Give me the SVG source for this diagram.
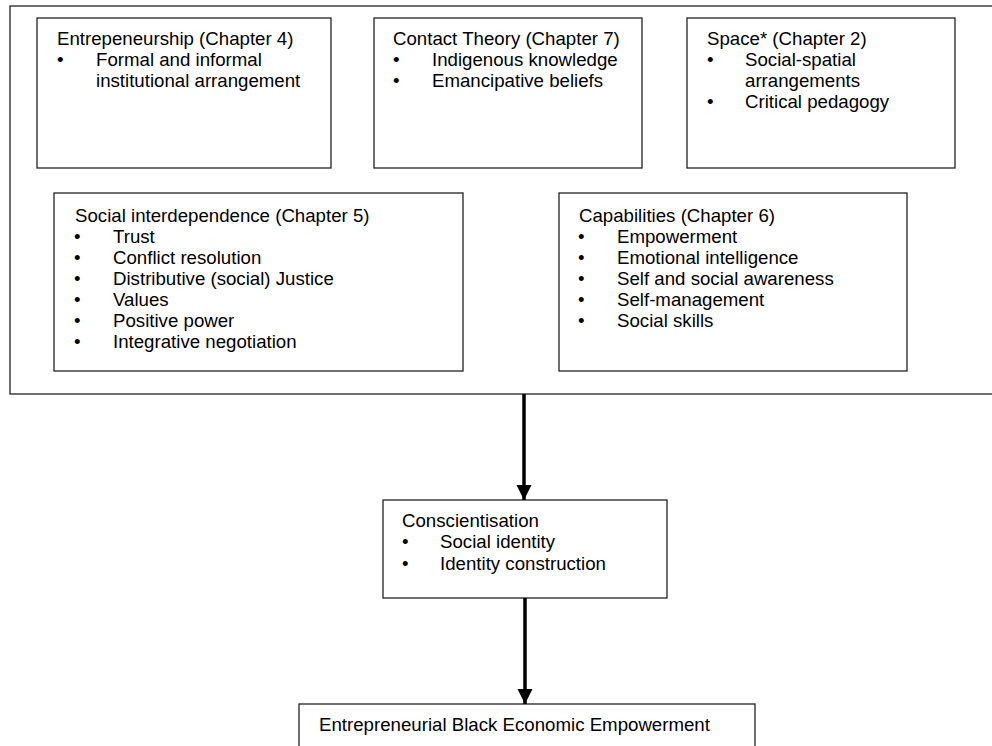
<svg xmlns="http://www.w3.org/2000/svg" width="992" height="746" viewBox="0 0 992 746">
  <style>
    .box { fill: #fff; stroke: #222; stroke-width: 1.3; }
    .frame { fill: none; stroke: #222; stroke-width: 1.3; }
    text { font-family: "Liberation Sans", Arial, sans-serif; font-size: 18.67px; fill: #000; }
    .link { stroke: #000; stroke-width: 3.5; fill: none; }
  </style>
  <defs>
    <marker id="head" markerUnits="userSpaceOnUse" markerWidth="16" markerHeight="16" refX="15" refY="7.5" orient="auto">
      <path d="M0,0 L15,7.5 L0,15 Z" fill="#000"/>
    </marker>
  </defs>

  <rect width="992" height="746" fill="#fff"/>

  <!-- enclosing frame for the theory boxes (open on the right) -->
  <rect class="frame" x="10" y="6" width="1000" height="388"/>

  <g id="entrepreneurship">
    <rect class="box" x="37" y="18" width="294" height="150"/>
    <text x="57" y="45">Entrepeneurship (Chapter 4)</text>
    <text x="57" y="66">•</text>
    <text x="96" y="66">Formal and informal</text>
    <text x="96" y="87">institutional arrangement</text>
  </g>

  <g id="contact-theory">
    <rect class="box" x="374" y="18" width="268" height="150"/>
    <text x="393" y="45">Contact Theory (Chapter 7)</text>
    <text x="393" y="66">•</text>
    <text x="432" y="66">Indigenous knowledge</text>
    <text x="393" y="87">•</text>
    <text x="432" y="87">Emancipative beliefs</text>
  </g>

  <g id="space">
    <rect class="box" x="687" y="18" width="268" height="150"/>
    <text x="707" y="45">Space* (Chapter 2)</text>
    <text x="707" y="66">•</text>
    <text x="745" y="66">Social-spatial</text>
    <text x="745" y="87">arrangements</text>
    <text x="707" y="108">•</text>
    <text x="745" y="108">Critical pedagogy</text>
  </g>

  <g id="social-interdependence">
    <rect class="box" x="54" y="193" width="409" height="178"/>
    <text x="75" y="222">Social interdependence (Chapter 5)</text>
    <text x="74" y="243">•</text>
    <text x="113" y="243">Trust</text>
    <text x="74" y="264">•</text>
    <text x="113" y="264">Conflict resolution</text>
    <text x="74" y="285">•</text>
    <text x="113" y="285">Distributive (social) Justice</text>
    <text x="74" y="306">•</text>
    <text x="113" y="306">Values</text>
    <text x="74" y="327">•</text>
    <text x="113" y="327">Positive power</text>
    <text x="74" y="348">•</text>
    <text x="113" y="348">Integrative negotiation</text>
  </g>

  <g id="capabilities">
    <rect class="box" x="559" y="193" width="348" height="178"/>
    <text x="579" y="222">Capabilities (Chapter 6)</text>
    <text x="578" y="243">•</text>
    <text x="617" y="243">Empowerment</text>
    <text x="578" y="264">•</text>
    <text x="617" y="264">Emotional intelligence</text>
    <text x="578" y="285">•</text>
    <text x="617" y="285">Self and social awareness</text>
    <text x="578" y="306">•</text>
    <text x="617" y="306">Self-management</text>
    <text x="578" y="327">•</text>
    <text x="617" y="327">Social skills</text>
  </g>

  <g id="conscientisation">
    <rect class="box" x="383" y="500" width="284" height="98"/>
    <text x="402" y="527">Conscientisation</text>
    <text x="402" y="548">•</text>
    <text x="440" y="548">Social identity</text>
    <text x="402" y="570">•</text>
    <text x="440" y="570">Identity construction</text>
  </g>

  <g id="black-economic-empowerment">
    <rect class="box" x="299" y="704" width="456" height="60"/>
    <text x="319" y="731">Entrepreneurial Black Economic Empowerment</text>
  </g>

  <g id="connectors">
    <line class="link" x1="524" y1="394" x2="524" y2="500" marker-end="url(#head)"/>
    <line class="link" x1="525" y1="598" x2="525" y2="704" marker-end="url(#head)"/>
  </g>
</svg>
